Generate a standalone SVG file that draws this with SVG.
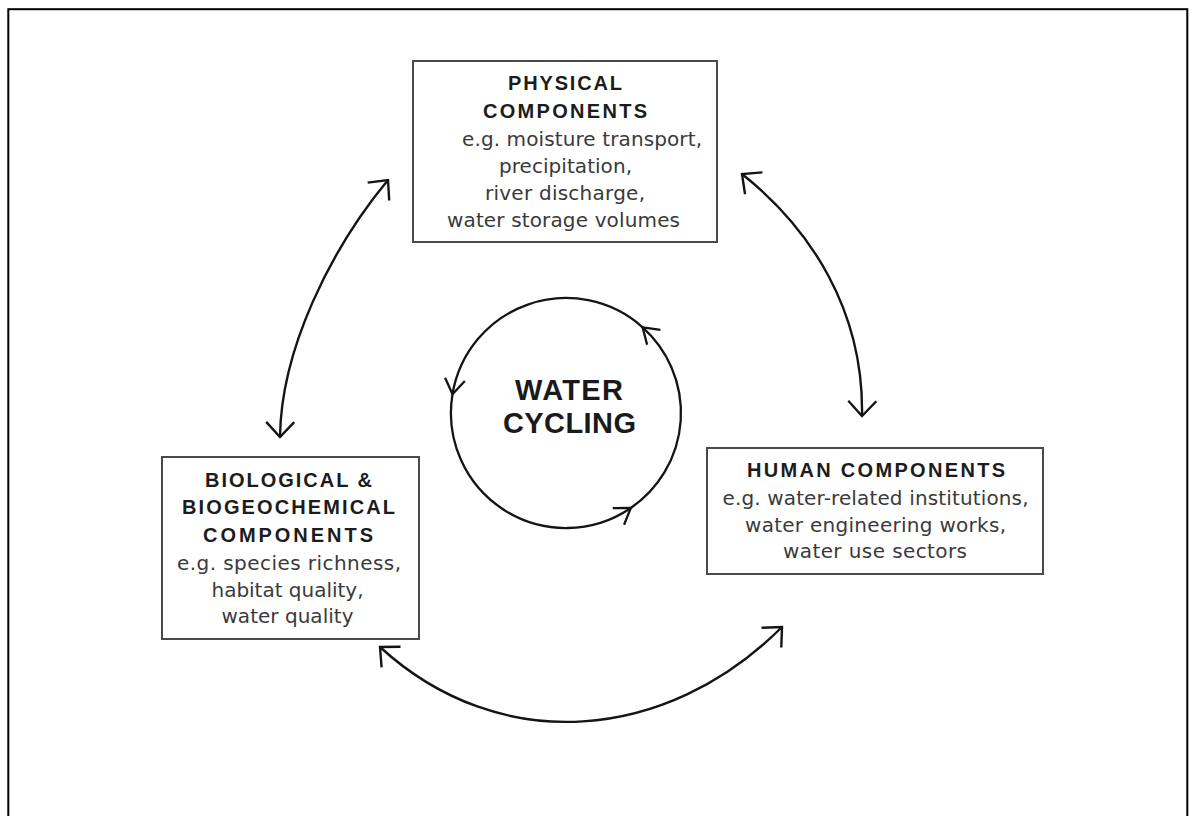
<svg xmlns="http://www.w3.org/2000/svg" width="1191" height="816" viewBox="0 0 1191 816">
<style>
.box{fill:#fff;stroke:#4a4a4a;stroke-width:2}
.hd{font-family:"Liberation Sans",Arial,sans-serif;font-weight:bold;font-size:20px;fill:#1c1c1c;text-anchor:middle}
.tx{font-family:"DejaVu Sans","Liberation Sans",sans-serif;font-size:20px;fill:#3a3a3a;text-anchor:middle}
.big{font-family:"Liberation Sans",Arial,sans-serif;font-weight:bold;font-size:29px;fill:#1a1a1a;text-anchor:middle}
.con{fill:none;stroke:#141414;stroke-width:2.4}
.ring{fill:none;stroke:#141414;stroke-width:2.3}
</style>
<defs>
<marker id="arr" viewBox="-20 -20 24 40" refX="0" refY="0" markerWidth="24" markerHeight="40" markerUnits="userSpaceOnUse" orient="auto-start-reverse">
<path d="M-15,-14 L0,0 L-15,14" fill="none" stroke="#141414" stroke-width="2.4"/>
</marker>
<marker id="arrS" viewBox="-20 -14 24 28" refX="0" refY="0" markerWidth="24" markerHeight="28" markerUnits="userSpaceOnUse" orient="auto">
<path d="M-15,-10 L0,0 L-15,10" fill="none" stroke="#141414" stroke-width="2.3"/>
</marker>
</defs>
<rect width="1191" height="816" fill="#fff"/>
<rect id="frame" x="8.3" y="9.2" width="1179" height="830" fill="none" stroke="#000" stroke-width="2"/>

<g id="physical">
<rect class="box" x="413" y="61" width="304" height="181"/>
<text class="hd" x="565" y="90" textLength="114">PHYSICAL</text>
<text class="hd" x="565" y="118" textLength="164">COMPONENTS</text>
<text class="tx" x="582" y="146" textLength="240">e.g. moisture transport,</text>
<text class="tx" x="565.5" y="173" textLength="133">precipitation,</text>
<text class="tx" x="565" y="200" textLength="160">river discharge,</text>
<text class="tx" x="563.5" y="227" textLength="233">water storage volumes</text>
</g>

<g id="biological">
<rect class="box" x="162" y="457" width="257" height="182"/>
<text class="hd" x="288.5" y="487" textLength="167">BIOLOGICAL &amp;</text>
<text class="hd" x="288.5" y="514" textLength="213">BIOGEOCHEMICAL</text>
<text class="hd" x="288" y="542" textLength="170">COMPONENTS</text>
<text class="tx" x="289" y="570" textLength="224">e.g. species richness,</text>
<text class="tx" x="287.5" y="597" textLength="152">habitat quality,</text>
<text class="tx" x="287.5" y="623" textLength="132">water quality</text>
</g>

<g id="human">
<rect class="box" x="707" y="448" width="336" height="126"/>
<text class="hd" x="876" y="477" textLength="258">HUMAN COMPONENTS</text>
<text class="tx" x="875.5" y="505" textLength="306">e.g. water-related institutions,</text>
<text class="tx" x="875.5" y="532" textLength="261">water engineering works,</text>
<text class="tx" x="875" y="558" textLength="184">water use sectors</text>
</g>

<g id="water-cycling">
<path class="ring" d="M630.8,508.0 A115,115 0 0 0 642.6,327.3" marker-end="url(#arrS)"/>
<path class="ring" d="M642.6,327.3 A115,115 0 0 0 452.5,394.2" marker-end="url(#arrS)"/>
<path class="ring" d="M452.5,394.2 A115,115 0 0 0 630.8,508.0" marker-end="url(#arrS)"/>
<text class="big" x="569" y="400" textLength="108">WATER</text>
<text class="big" x="569.5" y="433" textLength="133">CYCLING</text>
</g>

<g id="connectors">
<path class="con" d="M280,437 C281,350 330,250 388,180" marker-start="url(#arr)" marker-end="url(#arr)"/>
<path class="con" d="M742,174 C810,228 864,310 862,416" marker-start="url(#arr)" marker-end="url(#arr)"/>
<path class="con" d="M380,647 C500,757 667,742 782,627" marker-start="url(#arr)" marker-end="url(#arr)"/>
</g>
</svg>
